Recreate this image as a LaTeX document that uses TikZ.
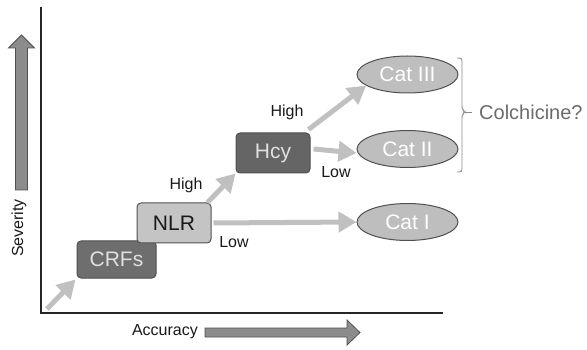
\documentclass[tikz,border=0pt]{standalone}
\usepackage{fontspec}
\setmainfont{Liberation Sans}
\usetikzlibrary{arrows.meta,shapes.geometric}
\definecolor{darkbox}{HTML}{6E6E6E}
\definecolor{lightbox}{HTML}{C4C4C4}
\definecolor{ellfill}{HTML}{BEBEBE}
\definecolor{edge}{HTML}{505050}
\definecolor{flow}{HTML}{C0C0C0}
\definecolor{axisfill}{HTML}{8C8C8C}
\definecolor{bracecol}{HTML}{8A8A8A}
\tikzset{
  boxnode/.style={draw=edge, line width=1pt, rounded corners=4pt, minimum width=79pt, minimum height=38pt, inner sep=0pt, font=\fontsize{21}{24}\selectfont},
  darkbx/.style={boxnode, fill=darkbox, text=white!88!black},
  lightbx/.style={boxnode, fill=lightbox, text=black!90},
  catnode/.style={ellipse, draw=edge, line width=1pt, fill=ellfill, minimum width=101pt, minimum height=37pt, inner sep=0pt, text=white, font=\fontsize{21}{24}\selectfont},
  flowarrow/.style={draw=flow, line width=5pt, -{Triangle[width=20pt,length=18pt]}},
  lbl/.style={font=\fontsize{16}{18}\selectfont, text=black!90, inner sep=0pt},
  axisarrow/.style={draw=edge, line width=0.8pt, fill=axisfill}
}
\begin{document}
\begin{tikzpicture}[x=1pt,y=-1pt]
\useasboundingbox (0,0) rectangle (587,350);
% axes
\draw[line width=1.2pt, black!85] (41,7) -- (41,313) -- (443,313);
% severity block arrow
\draw[axisarrow] (15.5,190) -- (15.5,48) -- (8.5,48) -- (21.5,35) -- (34.5,48) -- (27.5,48) -- (27.5,190) -- cycle;
\node[lbl, rotate=90] (sev) at (19,228) {Severity};
% accuracy block arrow
\node[lbl, anchor=east] (acc) at (198,332) {Accuracy};
\draw[axisarrow] (205,328) -- (347,328) -- (347,320) -- (360,332.5) -- (347,345) -- (347,337) -- (205,337) -- cycle;
% nodes
\node[darkbx, minimum width=79pt, minimum height=37pt] (crfs) at (116.5,259.5) {CRFs};
\node[lightbx, minimum width=74pt, minimum height=40pt] (nlr) at (174,223) {NLR};
\node[darkbx, fill=darkbox!92!black, minimum width=74pt, minimum height=40pt] (hcy) at (273,153) {Hcy};
\node[catnode] (cat3) at (407.5,74.5) {Cat III};
\node[catnode] (cat2) at (407.5,149) {Cat II};
\node[catnode] (cat1) at (407.5,222) {Cat I};
% flow arrows
\coordinate (start) at (47,309);
\draw[flowarrow] (start) -- ([shift={(-1,1)}]crfs.south west);
\draw[flowarrow] ([shift={(-4,0)}]nlr.north east) -- ([shift={(0,0)}]hcy.south west);
\draw[flowarrow] ([shift={(-2,-3)}]hcy.north east) -- (cat3.195);
\draw[flowarrow] ([shift={(3,-4)}]hcy.east) -- ([yshift=-4pt]cat2.west);
\draw[flowarrow] ([shift={(2,0)}]nlr.east) -- (cat1.west);
% labels
\node[lbl] (h1) at (186,185) {High};
\node[lbl] (l1) at (234,242) {Low};
\node[lbl] (h2) at (287,112) {High};
\node[lbl] (l2) at (336,172) {Low};
% brace
\draw[bracecol, line width=0.9pt, rounded corners=2.5pt] (457,58) -- (462,58) -- (462,109) -- (465,112) -- (462,115) -- (462,172) -- (457,172);
\draw[bracecol, line width=0.9pt] (464.5,112) -- (472,112);
\node[anchor=west, inner sep=0pt, text=black!58, font=\fontsize{20}{22}\selectfont] (colch) at (479,112) {Colchicine?};
\end{tikzpicture}
\end{document}
